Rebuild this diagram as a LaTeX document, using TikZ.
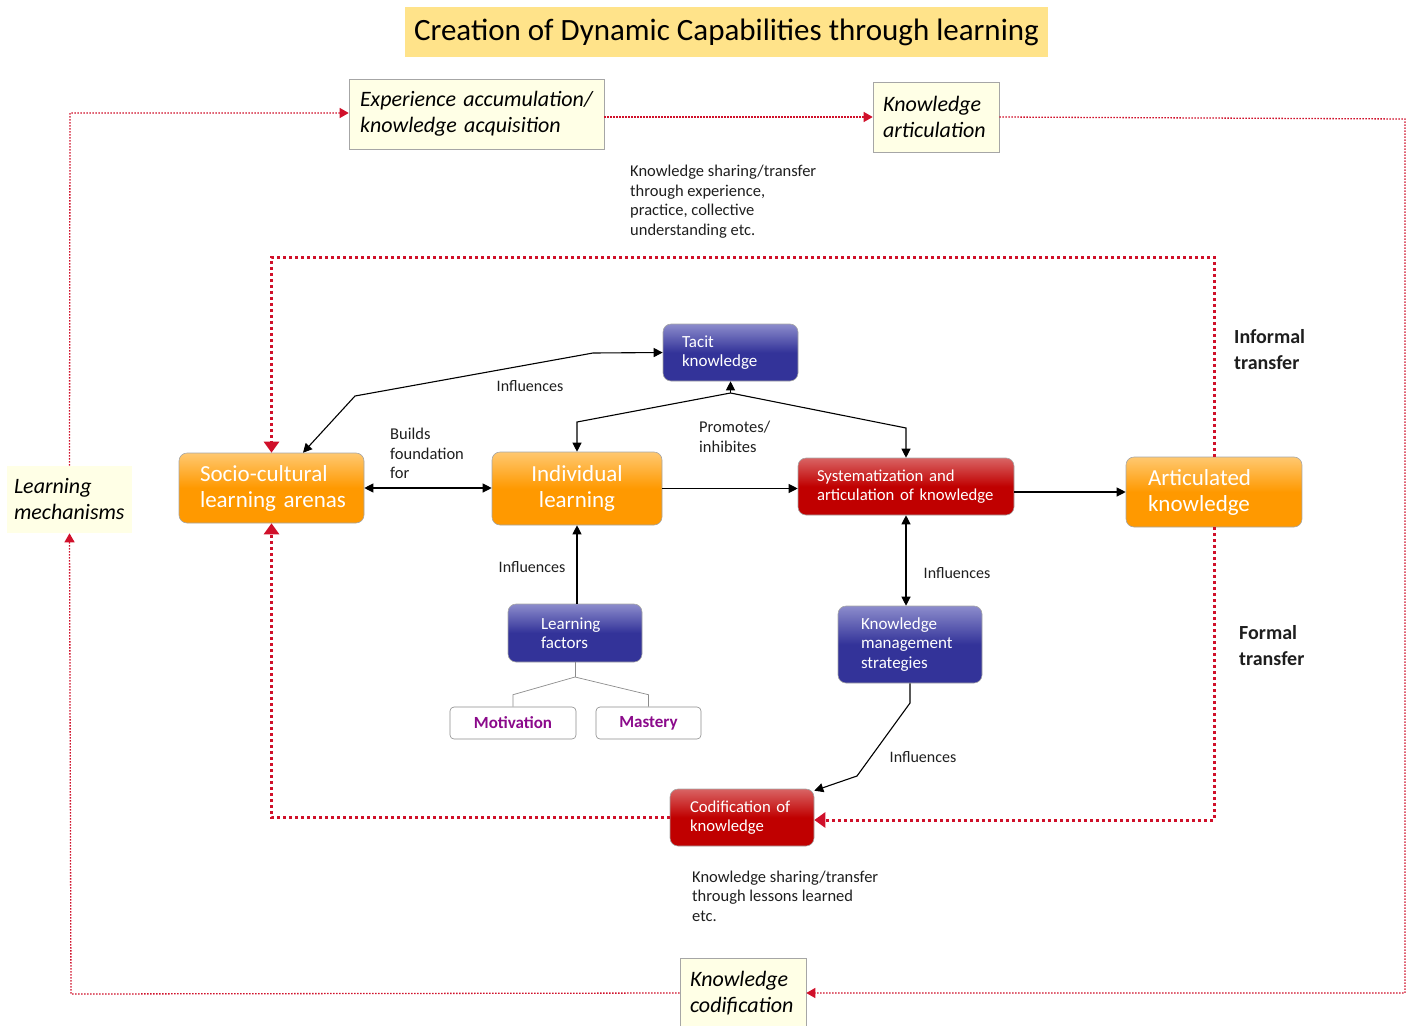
\documentclass[tikz,border=0pt]{standalone}
\usepackage{fontspec}
\setmainfont{Carlito}
\usetikzlibrary{arrows.meta,calc}

\definecolor{orTop}{HTML}{FFC870}
\definecolor{orBot}{HTML}{FF9900}
\definecolor{blTop}{HTML}{8C8CCC}
\definecolor{blBot}{HTML}{333399}
\definecolor{rdTop}{HTML}{D96464}
\definecolor{rdBot}{HTML}{C00000}
\definecolor{cream}{HTML}{FFFFE6}
\definecolor{titleFill}{HTML}{FFE38A}
\definecolor{loopRed}{HTML}{D0102A}
\definecolor{purpleTxt}{HTML}{8B0A8B}
\definecolor{labelTxt}{HTML}{1E1E1E}

\tikzset{
  rbox/.style={rounded corners=8pt, draw=black!35, line width=0.6pt, text=white},
  orangebox/.style={rbox, top color=orTop, bottom color=orBot, middle color=orBot,
    font=\fontsize{23}{26}\selectfont, align=left},
  bluebox/.style={rbox, top color=blTop, bottom color=blBot, middle color=blBot,
    font=\fontsize{17}{19.5}\selectfont, align=left},
  redbox/.style={rbox, top color=rdTop, bottom color=rdBot, middle color=rdBot,
    font=\fontsize{16.7}{19}\selectfont, align=left},
  creambox/.style={fill=cream, draw=black!35, line width=0.6pt,
    font=\fontsize{22}{26}\selectfont\itshape, align=left, text=black},
  leafbox/.style={rounded corners=4pt, draw=black!45, line width=0.6pt, fill=white,
    text=purpleTxt, font=\fontsize{17}{18}\bfseries},
  lbl/.style={text=labelTxt, font=\fontsize{16.5}{19.5}\selectfont, align=left, inner sep=0pt},
  inflbl/.style={text=labelTxt, font=\fontsize{16}{19.5}\selectfont, inner sep=0pt},
  biglbl/.style={text=labelTxt, font=\fontsize{20}{26}\bfseries, align=left, inner sep=0pt},
  conn/.style={line width=1.1pt, black, -{Triangle[width=9pt,length=9pt]}},
  both/.style={conn, {Triangle[width=9pt,length=9pt]}-{Triangle[width=9pt,length=9pt]}},
  treeline/.style={line width=0.7pt, black!45},
  thinloop/.style={line width=1.3pt, loopRed, dash pattern=on 1.5pt off 1.5pt,
    -{Triangle[width=10pt,length=9pt]}},
  thickloop/.style={line width=3pt, loopRed, dash pattern=on 3pt off 3pt,
    -{Triangle[width=15pt,length=11pt]}},
}

\begin{document}
\begin{tikzpicture}[x=1pt, y=-1pt]
\useasboundingbox (0,0) rectangle (1410,1025);

% title
\node[fill=titleFill, minimum width=643pt, minimum height=50pt,
      font=\fontsize{31}{34}\selectfont] (title) at (726.5,32)
      {Creation of Dynamic Capabilities through learning};

% learning-mechanism boxes (outer loop)
\node[creambox, inner xsep=11pt, text width=233pt, minimum height=70pt] (exp) at (476.5,114)
  {Experience accumulation/\\knowledge acquisition};
\node[creambox, inner xsep=10pt, text width=106pt, minimum height=70pt] (kart) at (936,117)
  {Knowledge\\articulation};
\node[creambox, draw=none, inner xsep=7pt, text width=111pt, minimum height=67pt] (lmech) at (69.5,499.5)
  {Learning\\mechanisms};
\node[creambox, inner xsep=10pt, text width=106pt, minimum height=70pt] (kcod) at (743,993)
  {Knowledge\\codification};

% orange boxes
\node[orangebox, inner xsep=21pt, text width=143pt, minimum height=70pt] (socio) at (271.5,488)
  {Socio-cultural\\\mbox{learning arenas}};
\node[orangebox, align=center, text width=150pt, inner xsep=10pt, minimum height=73pt] (indiv) at (577,488.5)
  {Individual\\learning};
\node[orangebox, inner xsep=22pt, text width=132pt, minimum height=70pt] (artk) at (1214,492)
  {Articulated\\knowledge};

% blue boxes
\node[bluebox, inner xsep=19pt, text width=97pt, minimum height=57pt] (tacit) at (730.5,352.5)
  {Tacit\\knowledge};
\node[bluebox, inner xsep=33pt, text width=68pt, minimum height=58pt] (lf) at (575,633)
  {Learning\\factors};
\node[bluebox, inner xsep=23pt, text width=98pt, minimum height=77pt] (kms) at (910,644.5)
  {Knowledge\\management\\strategies};

% red boxes
\node[redbox, inner xsep=19pt, text width=178pt, minimum height=57pt] (syst) at (906,486.5)
  {Systematization and\\articulation of knowledge};
\node[redbox, inner xsep=20pt, text width=104pt, minimum height=57pt] (cod) at (742,817.5)
  {Codification of\\knowledge};

% learning factors
\node[leafbox, minimum width=126pt, minimum height=32pt] (mot) at (513,723) {Motivation};
\node[leafbox, minimum width=105pt, minimum height=32pt] (mas) at (648.5,723) {Mastery};

% labels
\node[lbl, anchor=north west] (ksh1) at (630,165)
  {Knowledge sharing/transfer\\through experience,\\practice, collective\\understanding etc.};
\node[lbl, anchor=north west] (ksh2) at (692,870.5)
  {Knowledge sharing/transfer\\through lessons learned\\etc.};
\node[lbl, anchor=north west] (builds) at (390,428) {Builds\\foundation\\for};
\node[inflbl] (infA) at (530,386) {Influences};
\node[lbl, anchor=north west] (prom) at (699,421) {Promotes/\\inhibites};
\node[inflbl] (infB) at (532,567) {Influences};
\node[inflbl] (infC) at (957,573) {Influences};
\node[inflbl] (infD) at (923,757) {Influences};
\node[biglbl, anchor=north west] (informal) at (1234,329) {Informal\\transfer};
\node[biglbl, anchor=north west] (formal) at (1239,625) {Formal\\transfer};

% outer (thin) learning loop
\coordinate (oTL) at (70,113);
\coordinate (oTR) at (1405,119);
\coordinate (oBR) at (1405,993);
\coordinate (oBL) at (71,994);
\draw[thinloop] (lmech.north) -- (oTL) -- (exp.west |- oTL);
\draw[thinloop] (exp.east |- kart.west) -- (kart.west);
\draw[thinloop] (kart.east) -- (oTR) -- (oBR) -- (kcod.east);
\draw[thinloop] (kcod.west) -- (oBL) -- (lmech.south);

% inner (thick) transfer loop
\coordinate (iTR) at (1214,257);
\coordinate (iTL) at (271.5,257);
\coordinate (iBR) at (1214,820);
\coordinate (iBL) at (271.5,817.5);
\draw[thickloop] (artk.north) -- (iTR) -- (iTL) -- (socio.north);
\draw[thickloop] (artk.south) -- (iBR) -- (cod.east |- iBR);
\draw[thickloop] (cod.west) -- (iBL) -- (socio.south);

% black connectors
\draw[both] (socio.east) -- (indiv.west |- socio.east);
\draw[both] (tacit.west) -- (593,353) -- (355,396) -- ([xshift=31.5pt]socio.north);
\coordinate (pj) at (730.5,393);
\draw[conn] (pj) -- (tacit.south);
\draw[conn] (pj) -- (577,422) -- (indiv.north);
\draw[conn] (pj) -- (906,428) -- (syst.north);
\draw[conn] (indiv.east) -- (syst.west |- indiv.east);
\draw[conn] (syst.east |- artk.west) -- (artk.west);
\draw[both] (syst.south) -- (syst.south |- kms.north);
\draw[conn] (lf.north -| indiv.south) -- (indiv.south);
\draw[conn] (kms.south) -- (910,703) -- (857,776) -- ([yshift=-2pt]cod.north east);

% learning-factor tree
\coordinate (tj) at (575,677);
\draw[treeline] (lf.south) -- (tj);
\draw[treeline] (tj) -- ([yshift=12pt]mot.north) -- (mot.north);
\draw[treeline] (tj) -- ([yshift=12pt]mas.north) -- (mas.north);
\end{tikzpicture}
\end{document}
